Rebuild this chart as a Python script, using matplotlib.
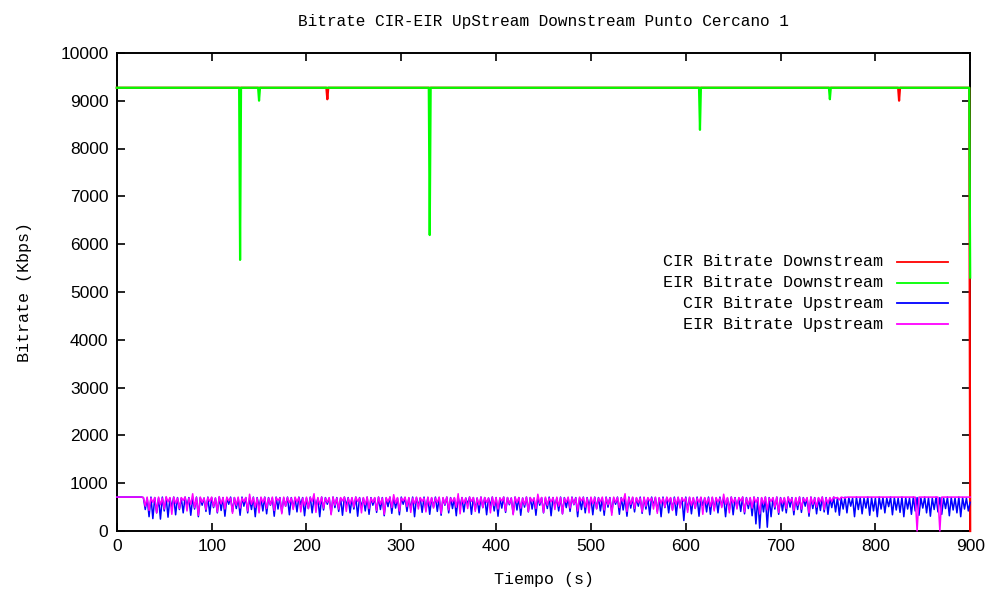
import numpy as np
import matplotlib.pyplot as plt

# downstream: flat level with a few short dips (time s, value kbps)
down_level = 9270
cir_down_dips_t = [222, 825, 900]
cir_down_dips_v = [9030, 9000, 0]
eir_down_dips_t = [130, 150, 330, 615, 752, 900]
eir_down_dips_v = [5670, 9000, 6190, 8390, 9030, 5300]

# upstream sampled every 2 s
up_t = np.arange(0, 901, 2)

eir_up = [710] * 14 + [
    700, 520, 710, 430, 690, 600, 700, 380, 710, 550, 690, 460, 720, 610, 700, 350, 710, 580, 690, 470,
    700, 640, 710, 420, 690, 560, 780, 490, 700, 330, 710, 600, 690, 450, 700, 620, 710, 510, 690, 400,
    720, 570, 700, 460, 710, 630, 690, 370, 700, 540, 710, 480, 690, 610, 700, 420, 770, 560, 700, 500,
    690, 380, 710, 600, 700, 470, 690, 550, 710, 430, 700, 640, 690, 360, 710, 520, 700, 590, 690, 450,
    710, 610, 700, 400, 690, 530, 710, 470, 700, 620, 780, 390, 700, 560, 710, 480, 690, 600, 700, 340,
    710, 540, 690, 460, 700, 630, 710, 410, 690, 570, 700, 500, 710, 620, 690, 380, 700, 550, 710, 470,
    690, 600, 700, 430, 710, 560, 690, 350, 700, 610, 710, 490, 760, 580, 700, 420, 690, 630, 710, 510,
    700, 390, 690, 570, 710, 460, 700, 620, 690, 400, 710, 540, 700, 480, 690, 600, 710, 370, 700, 560,
    710, 440, 690, 610, 700, 500, 780, 360, 700, 580, 690, 470, 710, 620, 700, 410, 690, 550, 710, 490,
    700, 600, 690, 380, 710, 530, 700, 460, 690, 630, 710, 420, 700, 570, 690, 340, 710, 600, 700, 480,
    690, 550, 710, 410, 700, 620, 690, 470, 770, 580, 700, 390, 710, 540, 690, 610, 700, 450, 710, 520,
    700, 360, 690, 600, 710, 480, 700, 560, 690, 420, 710, 630, 700, 500, 690, 380, 710, 570, 700, 460,
    690, 610, 710, 440, 700, 550, 690, 330, 710, 600, 700, 490, 690, 620, 780, 410, 700, 560, 710, 470,
    700, 590, 690, 400, 710, 520, 700, 630, 690, 460, 710, 370, 700, 580, 690, 500, 710, 610, 700, 430,
    690, 560, 710, 480, 700, 620, 690, 390, 710, 540, 700, 470, 690, 600, 710, 350, 700, 570, 690, 510,
    710, 420, 700, 610, 690, 490, 770, 560, 700, 380, 710, 590, 690, 460, 700, 630, 710, 400, 690, 550,
    700, 480, 710, 600, 690, 360, 700, 570, 710, 440, 690, 620, 700, 500, 710, 390, 690, 580, 700, 470,
    710, 610, 690, 430, 700, 540, 710, 460, 690, 620, 700, 380, 710, 560, 690, 500, 700, 610, 710, 450,
    690, 580, 700, 620, 710, 690, 700, 650, 710, 700, 690, 710,
] + [710] * 36 + [0] + [710] * 11 + [0] + [710] * 16

cir_up = [710] * 14 + [
    700, 450, 690, 300, 710, 260, 700, 380, 690, 250, 710, 420, 700, 290, 690, 500, 710, 340, 700, 450,
    690, 380, 710, 520, 700, 330, 690, 460, 710, 300, 700, 540, 690, 410, 710, 350, 700, 490, 690, 380,
    710, 430, 700, 310, 690, 560, 710, 400, 700, 470, 690, 330, 710, 520, 700, 380, 690, 450, 710, 300,
    700, 500, 690, 420, 710, 360, 700, 540, 690, 310, 710, 460, 700, 390, 690, 520, 710, 340, 700, 480,
    690, 400, 710, 550, 700, 320, 690, 470, 710, 380, 700, 510, 690, 300, 710, 440, 700, 560, 690, 360,
    710, 490, 700, 410, 690, 330, 710, 530, 700, 380, 690, 460, 710, 310, 700, 500, 690, 420, 710, 350,
    700, 540, 690, 390, 710, 450, 700, 320, 690, 510, 710, 370, 700, 480, 690, 340, 710, 560, 700, 410,
    690, 460, 710, 300, 700, 520, 690, 390, 710, 440, 700, 350, 690, 500, 710, 410, 700, 330, 690, 540,
    710, 380, 700, 470, 690, 320, 710, 510, 700, 400, 690, 560, 710, 350, 700, 450, 690, 380, 710, 490,
    700, 340, 690, 530, 710, 420, 700, 310, 690, 480, 710, 390, 700, 550, 690, 360, 710, 440, 700, 330,
    690, 500, 710, 400, 700, 460, 690, 330, 710, 540, 700, 380, 690, 470, 710, 320, 700, 510, 690, 420,
    710, 360, 700, 490, 690, 410, 710, 550, 700, 300, 690, 450, 710, 380, 700, 520, 690, 340, 710, 470,
    700, 420, 690, 330, 710, 500, 700, 390, 690, 560, 710, 350, 700, 440, 690, 310, 710, 480, 700, 400,
    690, 520, 710, 370, 700, 460, 690, 340, 710, 530, 700, 410, 690, 300, 710, 490, 700, 380, 690, 450,
    710, 330, 700, 510, 690, 220, 710, 440, 700, 360, 690, 480, 710, 310, 700, 530, 690, 400, 710, 350,
    700, 460, 690, 380, 710, 520, 700, 300, 690, 450, 710, 340, 700, 490, 690, 410, 710, 360, 700, 470,
    690, 320, 710, 150, 700, 60, 690, 400, 710, 80, 700, 300, 690, 460, 710, 350, 700, 420, 690, 380,
    710, 500, 700, 340, 690, 450, 710, 390, 700, 520, 690, 310, 710, 470, 700, 360, 690, 430, 710, 400,
    700, 350, 690, 490, 710, 400, 700, 330, 690, 460, 710, 380, 700, 520, 690, 300, 710, 450, 700, 360,
    690, 480, 710, 330, 700, 420, 690, 300, 710, 460, 700, 380, 690, 510, 710, 340, 700, 440, 690, 390,
    710, 300, 700, 460, 690, 350, 710, 420, 700, 330, 690, 480, 710, 380, 700, 310, 690, 450, 710, 400,
    700, 350, 690, 470, 710, 320, 700, 440, 690, 380, 710, 300, 700, 460, 690, 420, 600,
]

down_t = np.arange(0, 901)
cir_down = np.full(len(down_t), down_level, dtype=float)
cir_down[cir_down_dips_t] = cir_down_dips_v
eir_down = np.full(len(down_t), down_level, dtype=float)
eir_down[eir_down_dips_t] = eir_down_dips_v

mono = 'Liberation Mono'
sans = 'Liberation Sans'

fig = plt.figure(figsize=(9.9, 5.94), dpi=100)
ax = fig.add_axes([0.118, 0.106, 0.862, 0.805])

series = [
    (down_t, cir_down, '#ff0000', 'CIR Bitrate Downstream', 1.6),
    (down_t, eir_down, '#00ff00', 'EIR Bitrate Downstream', 1.6),
    (up_t, cir_up, '#0000ff', 'CIR Bitrate Upstream', 1.1),
    (up_t, eir_up, '#ff00ff', 'EIR Bitrate Upstream', 1.1),
]
for x, y, c, lab, lw in series:
    ax.plot(x, y, color=c, lw=lw, clip_on=False)

# gnuplot-style legend: right-justified text, sample line after it
for i, (x, y, c, lab, lw) in enumerate(series):
    yy = 0.563 - i * 0.0435
    ax.text(0.898, yy, lab, transform=ax.transAxes, ha='right', va='center',
            family=mono, fontsize=12)
    ax.plot([0.914, 0.974], [yy, yy], color=c, lw=1.3, transform=ax.transAxes)

ax.set_xlim(0, 900)
ax.set_ylim(0, 10000)
ax.set_xticks(np.arange(0, 901, 100))
ax.set_yticks(np.arange(0, 10001, 1000))
ax.tick_params(direction='in', length=6, width=1.2, top=True, right=True,
               labelsize=12.5, pad=6)
for lab in ax.get_xticklabels() + ax.get_yticklabels():
    lab.set_family(sans)
for s in ax.spines.values():
    s.set_linewidth(1.4)
    s.set_zorder(1)

ax.set_title('Bitrate CIR-EIR UpStream Downstream Punto Cercano 1',
             family=mono, fontsize=11.6, pad=19)
ax.set_xlabel('Tiempo (s)', family=mono, fontsize=12, labelpad=13)
ax.set_ylabel('Bitrate (Kbps)', family=mono, fontsize=12, labelpad=20)

fig.savefig('out.png', dpi=100)
